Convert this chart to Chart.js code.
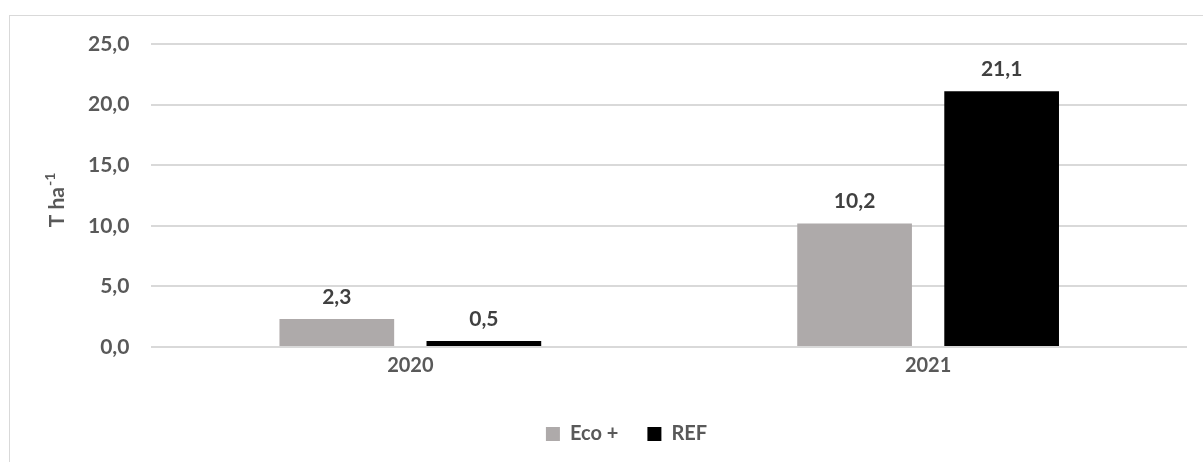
<!DOCTYPE html>
<html>
<head>
<meta charset="utf-8">
<script src="https://cdn.jsdelivr.net/npm/chart.js@4/dist/chart.umd.min.js"></script>
<style>
  html, body { margin: 0; padding: 0; background: #ffffff; overflow: hidden; }
  .frame {
    position: absolute; left: 9px; top: 15px;
    width: 1210px; height: 470px;
    border: 1px solid #d9d9d9; box-sizing: border-box;
  }
  .wrap { position: absolute; left: 0; top: 0; width: 1203px; height: 462px; }
</style>
</head>
<body>
<div class="frame"></div>
<div class="wrap"><canvas id="chart" width="1203" height="462"></canvas></div>
<script>
const years = ['2020', '2021'];
const ecoValues = [2.3, 10.2];
const refValues = [0.5, 21.1];
const yTicks = [0, 5, 10, 15, 20, 25];

const FONT = 'Lato, "Open Sans", sans-serif';
const fmt = v => v.toFixed(1).replace('.', ',');

// value labels above each bar
const barLabels = {
  id: 'barLabels',
  afterDatasetsDraw(chart) {
    const ctx = chart.ctx;
    ctx.save();
    ctx.font = `bold 21px ${FONT}`;
    ctx.fillStyle = '#404040';
    ctx.textAlign = 'center';
    ctx.textBaseline = 'middle';
    chart.data.datasets.forEach((ds, i) => {
      chart.getDatasetMeta(i).data.forEach((bar, j) => {
        ctx.fillText(fmt(ds.data[j]), bar.x, bar.y - 22);
      });
    });
    ctx.restore();
  }
};

// y axis title with superscript
const yTitle = {
  id: 'yTitle',
  afterDraw(chart) {
    const ctx = chart.ctx;
    const area = chart.chartArea;
    ctx.save();
    ctx.translate(56, (area.top + area.bottom) / 2 + 5);
    ctx.rotate(-Math.PI / 2);
    ctx.fillStyle = '#595959';
    ctx.textBaseline = 'alphabetic';
    ctx.font = `bold 21px ${FONT}`;
    const main = 'T ha';
    const wMain = ctx.measureText(main).width;
    ctx.font = `bold 14px ${FONT}`;
    const sup = '-1';
    const wSup = ctx.measureText(sup).width;
    const x0 = -(wMain + wSup) / 2;
    ctx.font = `bold 21px ${FONT}`;
    ctx.fillText(main, x0, 8);
    ctx.font = `bold 14px ${FONT}`;
    ctx.fillText(sup, x0 + wMain + 1, -1);
    ctx.restore();
  }
};

new Chart(document.getElementById('chart'), {
  type: 'bar',
  data: {
    labels: years,
    datasets: [
      {
        label: 'Eco +',
        data: ecoValues,
        backgroundColor: '#aeaaaa',
        borderWidth: 0,
        categoryPercentage: 0.568,
        barPercentage: 0.78
      },
      {
        label: 'REF',
        data: refValues,
        backgroundColor: '#000000',
        borderWidth: 0,
        categoryPercentage: 0.568,
        barPercentage: 0.78
      }
    ]
  },
  options: {
    responsive: false,
    animation: false,
    layout: { padding: { left: 66, right: 16, top: 44, bottom: 8 } },
    plugins: {
      legend: {
        position: 'bottom',
        labels: {
          color: '#595959',
          font: { family: FONT, size: 20, weight: 'bold' },
          boxWidth: 14,
          boxHeight: 14,
          padding: 29
        }
      },
      tooltip: { enabled: false },
      title: { display: false }
    },
    scales: {
      x: {
        grid: { display: false, drawTicks: false },
        border: { display: false },
        afterFit: axis => { axis.height = 48; },
        ticks: {
          color: '#595959',
          font: { family: FONT, size: 20, weight: 'bold' },
          padding: 7
        }
      },
      y: {
        min: yTicks[0],
        max: yTicks[yTicks.length - 1],
        afterBuildTicks: axis => { axis.ticks = yTicks.map(v => ({ value: v })); },
        grid: { color: '#d9d9d9', lineWidth: 2, drawTicks: false },
        border: { display: false },
        ticks: {
          color: '#595959',
          font: { family: FONT, size: 21, weight: 'bold' },
          padding: 22,
          callback: v => fmt(v)
        }
      }
    }
  },
  plugins: [barLabels, yTitle]
});
</script>
</body>
</html>
